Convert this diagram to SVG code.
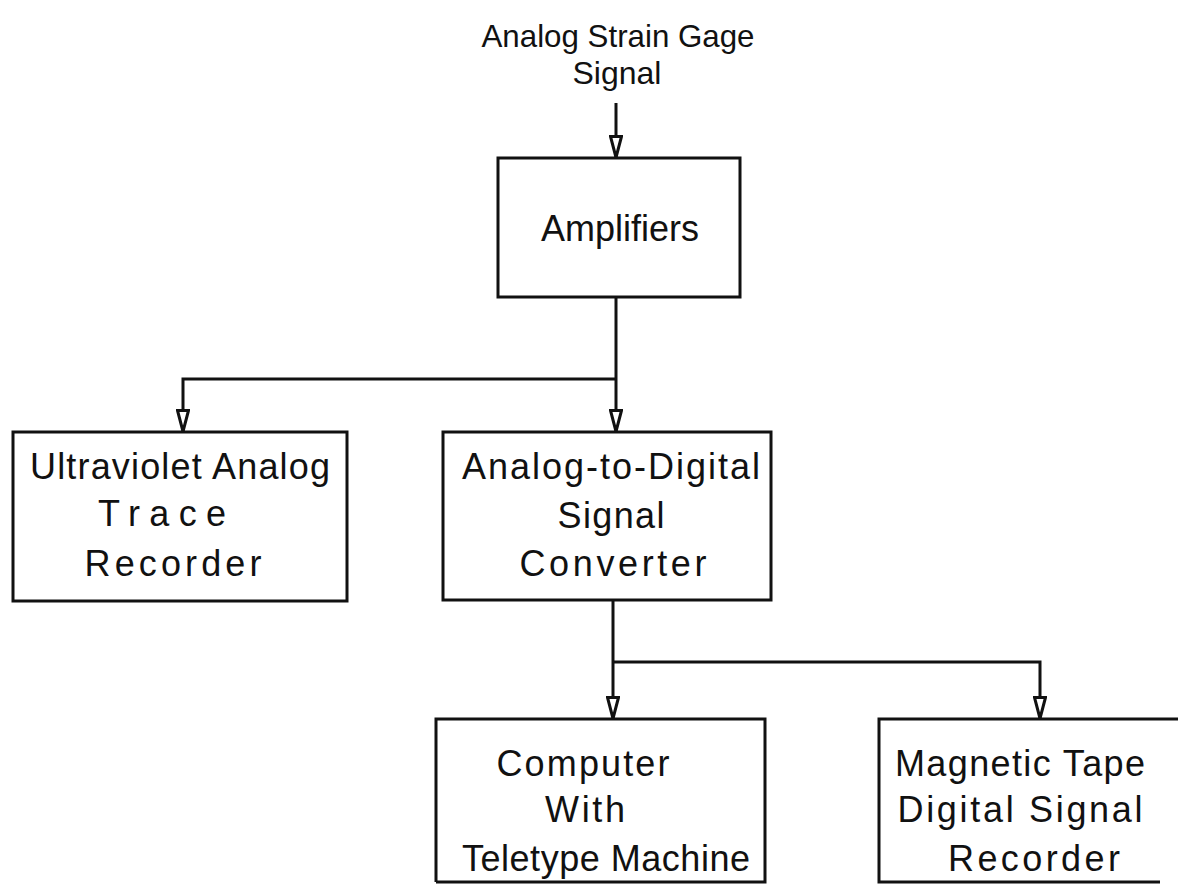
<svg xmlns="http://www.w3.org/2000/svg" width="1178" height="885" viewBox="0 0 1178 885">
<style>
.box{fill:none;stroke:#111;stroke-width:3}
.ln{fill:none;stroke:#111;stroke-width:3}
.t{font-family:"Liberation Sans",Arial,sans-serif;font-size:36px;fill:#111;text-anchor:middle}
.s{font-size:32px}
</style>
<defs>
<marker id="ah" markerUnits="userSpaceOnUse" viewBox="0 0 24 14" markerWidth="24" markerHeight="14" refX="23" refY="7" orient="auto">
<path d="M1.5,1.5 L22.5,7 L1.5,12.5 Z" fill="#fff" stroke="#111" stroke-width="3"/>
</marker>
</defs>
<rect width="1178" height="885" fill="#fff"/>
<g id="input">
<text class="t s" x="618" y="47" textLength="273" lengthAdjust="spacingAndGlyphs">Analog Strain Gage</text>
<text class="t s" x="617" y="84">Signal</text>
</g>
<g id="connectors">
<path class="ln" d="M616,103 V158" marker-end="url(#ah)"/>
<path class="ln" d="M616,297 V432" marker-end="url(#ah)"/>
<path class="ln" d="M616,379 H183 V432" marker-end="url(#ah)"/>
<path class="ln" d="M613,600 V719" marker-end="url(#ah)"/>
<path class="ln" d="M613,662 H1040 V719" marker-end="url(#ah)"/>
</g>
<g id="amplifiers">
<rect class="box" x="498" y="158" width="242" height="139"/>
<text class="t" x="620" y="241" font-size="34">Amplifiers</text>
</g>
<g id="uv-recorder">
<rect class="box" x="13" y="432" width="334" height="169"/>
<text class="t" x="180" y="479" textLength="300" lengthAdjust="spacing">Ultraviolet Analog</text>
<text class="t" x="162" y="526" textLength="128" lengthAdjust="spacing">Trace</text>
<text class="t" x="173" y="576" textLength="177" lengthAdjust="spacing">Recorder</text>
</g>
<g id="adc">
<rect class="box" x="443" y="432" width="328" height="168"/>
<text class="t" x="611" y="479" textLength="298" lengthAdjust="spacing">Analog-to-Digital</text>
<text class="t" x="611" y="528" textLength="107" lengthAdjust="spacing">Signal</text>
<text class="t" x="613" y="576" textLength="187" lengthAdjust="spacing">Converter</text>
</g>
<g id="computer">
<path class="box" d="M436,882 V719 H765 V882 H436"/>
<text class="t" x="583" y="776" textLength="173" lengthAdjust="spacing">Computer</text>
<text class="t" x="585" y="822" textLength="80" lengthAdjust="spacing">With</text>
<text class="t" x="606" y="871" textLength="288" lengthAdjust="spacing">Teletype Machine</text>
</g>
<g id="magtape">
<path class="box" d="M1180,719 H879 V882 H1160"/>
<text class="t" x="1020" y="776" textLength="250" lengthAdjust="spacing">Magnetic Tape</text>
<text class="t" x="1020" y="822" textLength="245" lengthAdjust="spacing">Digital Signal</text>
<text class="t" x="1034" y="871" textLength="172" lengthAdjust="spacing">Recorder</text>
</g>
</svg>
